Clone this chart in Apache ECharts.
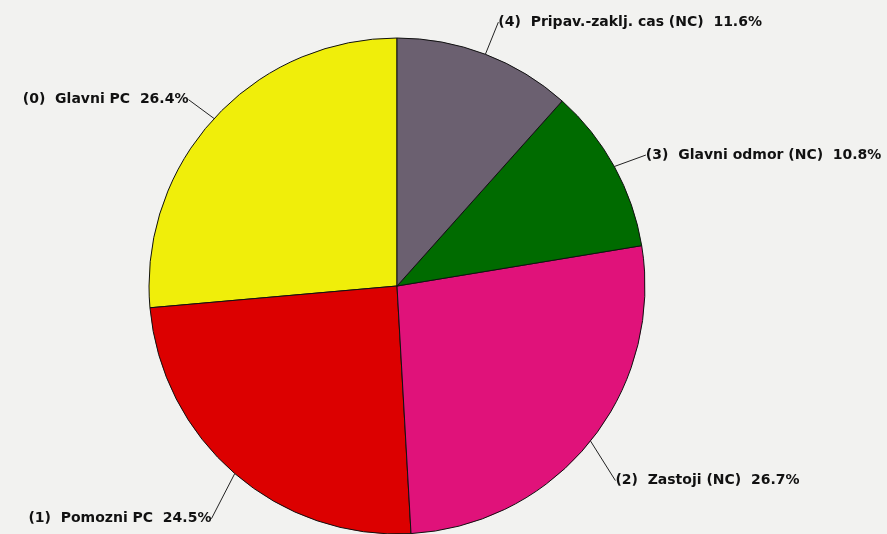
<!DOCTYPE html>
<html>
<head>
<meta charset="utf-8">
<script src="https://cdn.jsdelivr.net/npm/echarts@6/dist/echarts.min.js"></script>
<style>
  html, body { margin: 0; padding: 0; background: #f2f2f0; }
  #chart { width: 887px; height: 534px; }
</style>
</head>
<body>
<div id="chart"></div>
<script>
// podaci o strukturi vremena
const categories = ['(0)  Glavni PC', '(1)  Pomozni PC', '(2)  Zastoji (NC)', '(3)  Glavni odmor (NC)', '(4)  Pripav.-zaklj. cas (NC)'];
const shares = [26.4, 24.5, 26.7, 10.8, 11.6];
const sliceColors = ['#f0ee0a', '#dc0000', '#e0127a', '#006b00', '#6b6070'];

// pomak natpisa (dx, dy) u odnosu na default raspored
const labelShift = [[-2, 0], [-2, 24], [0, 22], [4, 2], [0, -6]];

const chart = echarts.init(document.getElementById('chart'));
chart.setOption({
  backgroundColor: '#f2f2f0',
  animation: false,
  series: [{
    type: 'pie',
    center: [397, 286],
    radius: 248,
    startAngle: 90,
    clockwise: false,
    data: categories.map((name, i) => ({
      name: name,
      value: shares[i],
      itemStyle: { color: sliceColors[i] }
    })),
    itemStyle: {
      borderColor: '#111111',
      borderWidth: 1
    },
    label: {
      show: true,
      color: '#111111',
      fontFamily: 'DejaVu Sans',
      fontWeight: 'bold',
      fontSize: 14,
      overflow: 'none',
      distanceToLabelLine: 3,
      formatter: p => p.name + '  ' + p.value.toFixed(1) + '%'
    },
    labelLine: {
      show: true,
      length: 28,
      length2: 0,
      lineStyle: { color: '#222222', width: 1 }
    },
    labelLayout: p => {
      const s = labelShift[p.dataIndex];
      return {
        x: p.labelRect.x + s[0],
        y: p.labelRect.y + s[1],
        align: 'left',
        verticalAlign: 'top'
      };
    },
    emphasis: { disabled: true }
  }]
});
</script>
</body>
</html>
